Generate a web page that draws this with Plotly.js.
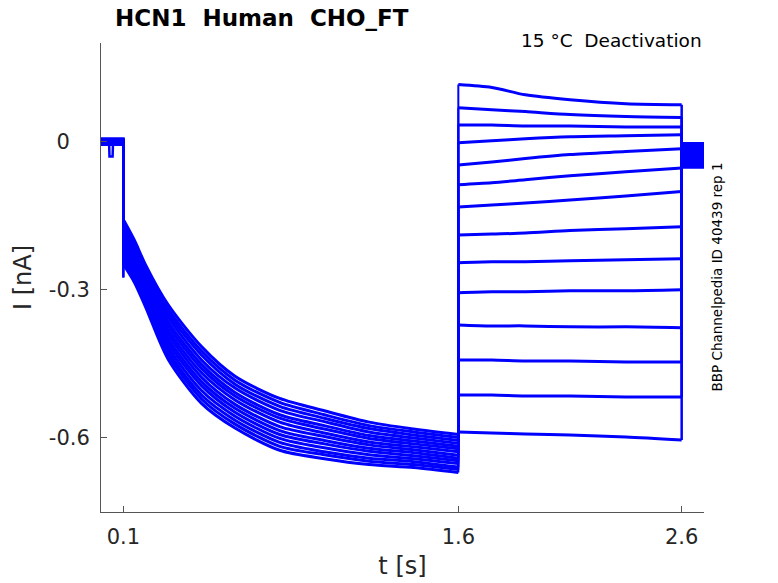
<!DOCTYPE html>
<html>
<head>
<meta charset="utf-8">
<script src="https://cdn.plot.ly/plotly-3.0.1.min.js"></script>
<style>
  html, body { margin: 0; padding: 0; background: #fff; }
  #myChart { width: 778px; height: 583px; }
</style>
</head>
<body>
<div id="myChart"></div>
<script>
// time points (s) for each part of the protocol
const tPre = [0, 0.036, 0.038, 0.052, 0.054, 0.1];
const tDecay = [0.1, 0.103, 0.15, 0.2, 0.3, 0.45, 0.6, 0.8, 1.0, 1.2, 1.4, 1.6];
const tTail = [1.6, 1.75, 1.9, 2.1, 2.35, 2.6];
const tPost = [2.6, 2.7];

// current (nA), one row per sweep
const preI = [
  [0.004, 0.004, 0.004, 0.004, 0.004, 0.004],
  [0.001, 0.001, -0.03, -0.03, 0.001, 0.001],
  [-0.003, -0.003, -0.003, -0.003, -0.003, -0.003],
  [0.006, 0.006, 0.006, 0.006, 0.006, 0.006],
  [-0.005, -0.005, -0.005, -0.005, -0.005, -0.005],
  [0.002, 0.002, 0.002, 0.002, 0.002, 0.002],
  [-0.001, -0.001, -0.001, -0.001, -0.001, -0.001],
  [0.005, 0.005, 0.005, 0.005, 0.005, 0.005],
  [-0.004, -0.004, -0.004, -0.004, -0.004, -0.004],
  [0.003, 0.003, 0.003, 0.003, 0.003, 0.003],
  [-0.002, -0.002, -0.002, -0.002, -0.002, -0.002],
  [0.0, 0.0, 0.0, 0.0, 0.0, 0.0],
  [0.006, 0.006, 0.006, 0.006, 0.006, 0.006],
  [-0.006, -0.006, -0.006, -0.006, -0.006, -0.006]
];

const decayI = [
  [-0.160, -0.160, -0.200, -0.250, -0.330, -0.415, -0.475, -0.520, -0.545, -0.568, -0.582, -0.593],
  [-0.237, -0.237, -0.272, -0.322, -0.424, -0.513, -0.564, -0.609, -0.628, -0.641, -0.648, -0.659],
  [-0.167, -0.167, -0.207, -0.257, -0.339, -0.424, -0.483, -0.528, -0.553, -0.575, -0.588, -0.599],
  [-0.209, -0.209, -0.246, -0.296, -0.389, -0.477, -0.532, -0.577, -0.597, -0.614, -0.624, -0.635],
  [-0.275, -0.181, -0.220, -0.270, -0.355, -0.442, -0.499, -0.544, -0.567, -0.588, -0.600, -0.611],
  [-0.250, -0.250, -0.285, -0.335, -0.440, -0.530, -0.580, -0.625, -0.642, -0.654, -0.660, -0.670],
  [-0.188, -0.188, -0.226, -0.276, -0.364, -0.451, -0.508, -0.553, -0.575, -0.595, -0.606, -0.617],
  [-0.222, -0.222, -0.259, -0.309, -0.406, -0.494, -0.548, -0.593, -0.612, -0.627, -0.636, -0.646],
  [-0.174, -0.174, -0.213, -0.263, -0.347, -0.432, -0.491, -0.536, -0.560, -0.581, -0.594, -0.605],
  [-0.243, -0.243, -0.278, -0.328, -0.431, -0.521, -0.572, -0.617, -0.634, -0.647, -0.654, -0.664],
  [-0.194, -0.194, -0.232, -0.282, -0.372, -0.459, -0.515, -0.560, -0.582, -0.601, -0.612, -0.622],
  [-0.229, -0.229, -0.266, -0.316, -0.415, -0.504, -0.556, -0.601, -0.620, -0.634, -0.642, -0.652],
  [-0.201, -0.201, -0.239, -0.289, -0.381, -0.468, -0.523, -0.568, -0.590, -0.608, -0.618, -0.628],
  [-0.216, -0.216, -0.253, -0.303, -0.398, -0.486, -0.540, -0.585, -0.605, -0.621, -0.630, -0.641]
];

const tailI = [
  [0.116, 0.110, 0.095, 0.085, 0.077, 0.075],
  [0.069, 0.065, 0.061, 0.055, 0.051, 0.049],
  [0.034, 0.034, 0.032, 0.032, 0.030, 0.030],
  [-0.002, 0.002, 0.006, 0.010, 0.012, 0.014],
  [-0.047, -0.041, -0.034, -0.026, -0.020, -0.014],
  [-0.087, -0.083, -0.077, -0.069, -0.061, -0.053],
  [-0.132, -0.128, -0.124, -0.118, -0.110, -0.101],
  [-0.189, -0.187, -0.185, -0.180, -0.176, -0.172],
  [-0.245, -0.243, -0.243, -0.241, -0.239, -0.237],
  [-0.306, -0.304, -0.304, -0.302, -0.302, -0.300],
  [-0.371, -0.373, -0.373, -0.375, -0.375, -0.377],
  [-0.442, -0.442, -0.444, -0.444, -0.446, -0.446],
  [-0.513, -0.513, -0.515, -0.515, -0.517, -0.517],
  [-0.588, -0.590, -0.592, -0.594, -0.598, -0.604]
];

const postI = [
  [-0.003, -0.003], [-0.031, -0.031], [-0.011, -0.011], [-0.046, -0.046],
  [-0.019, -0.019], [-0.039, -0.039], [-0.007, -0.007], [-0.027, -0.027],
  [-0.052, -0.052], [-0.015, -0.015], [-0.035, -0.035], [-0.023, -0.023],
  [-0.049, -0.049], [-0.043, -0.043]
];

const xTicks = [0.1, 1.6, 2.6];
const yTicks = [0, -0.3, -0.6];
// the "0" label sits further left in the original
const yTickText = ["0\u00a0\u00a0\u00a0", "-0.3", "-0.6"];

function seg(x, y, width, shape) {
  return {
    x: x,
    y: y,
    mode: "lines",
    line: {color: "#0000ff", width: width, shape: shape, smoothing: 0.8},
    hoverinfo: "skip",
    showlegend: false
  };
}

// each sweep drawn in pieces so the curved parts can be smoothed
// while the voltage steps stay straight
let data = [];
for (let i = 0; i < tailI.length; i++) {
  let d = decayI[i];
  let tl = tailI[i];
  let last = d.length - 1;
  // holding + step down
  data.push(seg(tPre.concat([tDecay[0]]), preI[i].concat([d[0]]), 2.5, "linear"));
  // spike right after the step
  data.push(seg(tDecay.slice(0, 2), d.slice(0, 2), 2, "linear"));
  // activation
  data.push(seg(tDecay.slice(1), d.slice(1), 3, "spline"));
  // step to test potential
  data.push(seg([tDecay[last], tTail[0]], [d[last], tl[0]], 2, "linear"));
  // tail current
  data.push(seg(tTail, tl, 3, "spline"));
  // back to holding
  data.push(seg([tTail[tTail.length - 1]].concat(tPost), [tl[tl.length - 1]].concat(postI[i]), 2.5, "linear"));
}

const axisFont = {family: "DejaVu Sans, sans-serif", size: 21, color: "#262626"};

const layout = {
  width: 778,
  height: 583,
  margin: {l: 101, r: 74, t: 43, b: 71},
  paper_bgcolor: "#ffffff",
  plot_bgcolor: "#ffffff",
  title: {
    text: "HCN1\u00a0 Human\u00a0 CHO_FT",
    font: {family: "DejaVu Sans, sans-serif", size: 23, color: "#000000", weight: "bold"},
    xref: "container", yref: "container",
    x: 115 / 778, xanchor: "left",
    y: 1 - 18 / 583, yanchor: "middle"
  },
  xaxis: {
    range: [0, 2.7],
    tickvals: xTicks,
    ticktext: xTicks.map(String),
    ticks: "inside",
    ticklen: 6,
    tickcolor: "#555",
    showline: true,
    linecolor: "#555",
    linewidth: 1,
    showgrid: false,
    zeroline: false,
    tickfont: axisFont,
    ticklabelstandoff: 6,
    title: {text: "t [s]", font: {family: "DejaVu Sans, sans-serif", size: 24, color: "#262626"}, standoff: 8}
  },
  yaxis: {
    range: [-0.75, 0.2],
    tickvals: yTicks,
    ticktext: yTickText,
    ticks: "inside",
    ticklen: 6,
    tickcolor: "#555",
    showline: true,
    linecolor: "#555",
    linewidth: 1,
    showgrid: false,
    zeroline: false,
    tickfont: axisFont,
    ticklabelstandoff: 6,
    title: {text: "I [nA]", font: {family: "DejaVu Sans, sans-serif", size: 24, color: "#262626"}, standoff: 10}
  },
  annotations: [
    {
      text: "15 °C\u00a0 Deactivation",
      xref: "paper", yref: "paper",
      x: 1, xanchor: "right",
      y: 1.006, yanchor: "middle",
      showarrow: false,
      font: {family: "DejaVu Sans, sans-serif", size: 18.5, color: "#000000"}
    },
    {
      text: "BBP Channelpedia ID 40439 rep 1",
      xref: "paper", yref: "paper",
      x: (716 - 101) / 603, xanchor: "center",
      y: 0.5, yanchor: "middle",
      textangle: -90,
      showarrow: false,
      font: {family: "DejaVu Sans, sans-serif", size: 13.5, color: "#000000"}
    }
  ]
};

const config = {staticPlot: true};

Plotly.newPlot("myChart", data, layout, config);
</script>
</body>
</html>
